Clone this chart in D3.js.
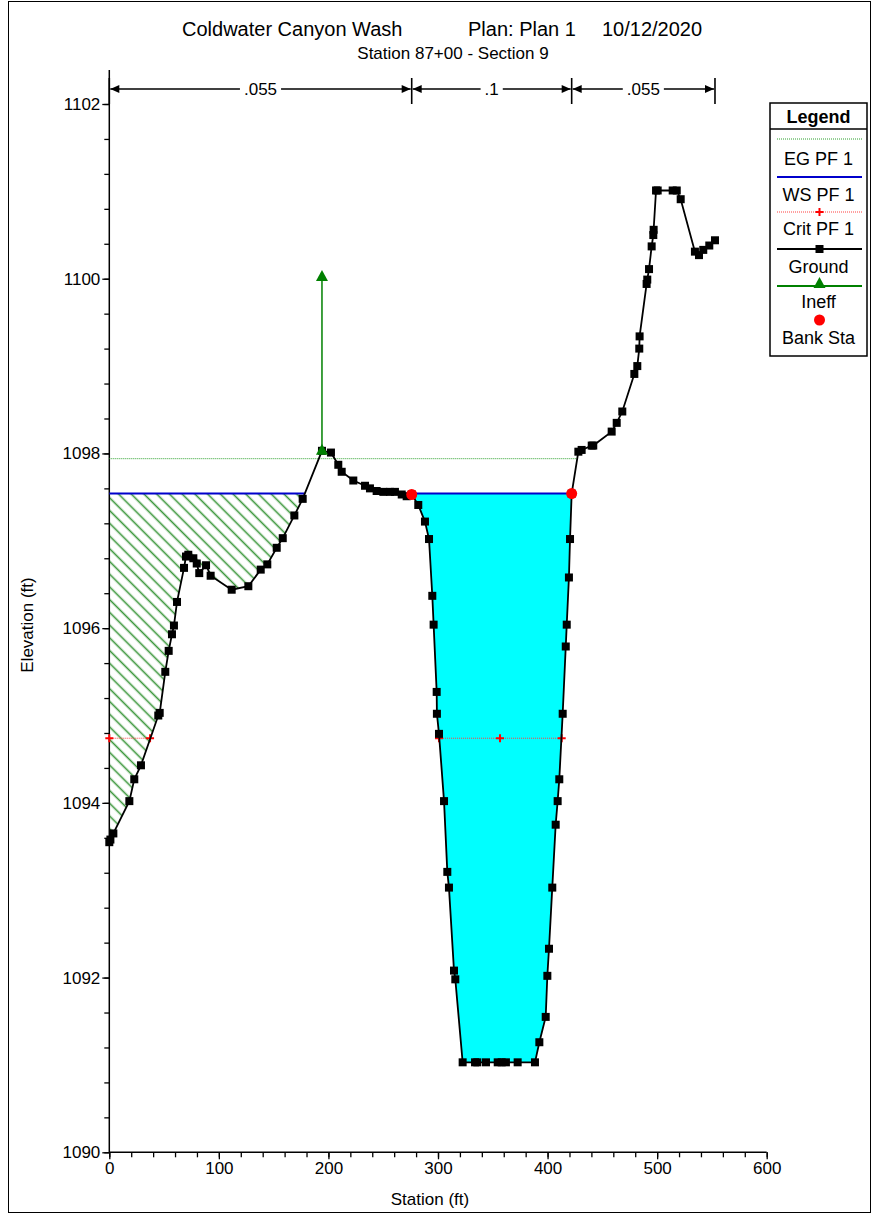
<!doctype html>
<meta charset="utf-8">
<script src="https://d3js.org/d3.v7.min.js"></script>
<style>
  body { margin: 0; background: #fff; }
  svg text { font-family: "Liberation Sans", Arial, sans-serif; fill: #000; }
</style>
<body>
<svg id="chart" width="873" height="1217"></svg>
<script>
// ---- data ----
var groundSta = [0, 1.0, 3.7, 18.3, 22.8, 28.9, 44.7, 46.0, 51.1, 54.2, 57.2, 59.0, 61.8, 68.2, 70.0, 72.1,
  76.7, 79.8, 82.1, 88.3, 92.5, 111.7, 126.9, 138.2, 144.2, 152.8, 158.3, 168.9, 176.5, 194.1, 202.3,
  209.0, 212.1, 222.7, 233.4, 237.9, 244.0, 250.1, 256.2, 260.7, 266.9, 271.4, 276.0, 282.0, 288.1,
  291.8, 294.8, 296.0, 298.8, 299.0, 300.9, 305.5, 308.5, 310.0, 314.6, 315.8, 322.5, 333.8, 335.9,
  343.8, 354.5, 358.1, 362.0, 372.7, 388.5, 392.5, 398.3, 399.8, 401.3, 404.3, 407.4, 409.2, 410.7,
  413.8, 416.6, 417.5, 419.5, 420.5, 422.0, 428.1, 431.1, 440.3, 441.7, 458.5, 463.1, 468.2, 479.2,
  481.9, 483.7, 484.0, 490.4, 491.0, 492.6, 495.0, 496.5, 496.8, 499.0, 500.5, 514.2, 517.9, 521.5,
  534.5, 538.2, 542.1, 547.6, 552.8];
var groundElev = [1093.55, 1093.58, 1093.65, 1094.02, 1094.27, 1094.43, 1095.00, 1095.03, 1095.50, 1095.74,
  1095.93, 1096.03, 1096.30, 1096.69, 1096.82, 1096.84, 1096.80, 1096.74, 1096.63, 1096.72, 1096.60,
  1096.44, 1096.48, 1096.67, 1096.73, 1096.92, 1097.03, 1097.29, 1097.48, 1098.03, 1098.01, 1097.87,
  1097.79, 1097.69, 1097.63, 1097.60, 1097.57, 1097.56, 1097.56, 1097.56, 1097.53, 1097.51, 1097.53,
  1097.41, 1097.22, 1097.02, 1096.37, 1096.04, 1095.27, 1095.02, 1094.79, 1094.02, 1093.21, 1093.03,
  1092.08, 1091.98, 1091.03, 1091.03, 1091.03, 1091.03, 1091.03, 1091.03, 1091.03, 1091.03, 1091.03,
  1091.26, 1091.55, 1092.02, 1092.33, 1093.03, 1093.75, 1094.02, 1094.27, 1095.02, 1095.79, 1096.04,
  1096.58, 1097.02, 1097.54, 1098.02, 1098.04, 1098.09, 1098.09, 1098.25, 1098.35, 1098.48, 1098.91,
  1099.00, 1099.20, 1099.34, 1099.94, 1099.99, 1100.11, 1100.37, 1100.50, 1100.56, 1101.01, 1101.01,
  1101.01, 1101.01, 1100.91, 1100.31, 1100.27, 1100.33, 1100.38, 1100.44];

var wsElev = 1097.54;     // WS PF 1
var egElev = 1097.94;     // EG PF 1
var critElev = 1094.74;   // Crit PF 1
var critSta = [0, 37.2, 300.9, 356.6, 412.9];
var bankSta = [276.0, 422.0];
var ineffSta = 194.1;
var ineffElev = [1098.03, 1100.02];
var nValues = [".055", ".1", ".055"];

var titleParts = ["Coldwater Canyon Wash", "Plan: Plan 1", "10/12/2020"];
var subtitle = "Station 87+00 - Section 9";
var xTicks = [0, 100, 200, 300, 400, 500, 600];
var yTicks = [1090, 1092, 1094, 1096, 1098, 1100, 1102];
var legendItems = ["EG PF 1", "WS PF 1", "Crit PF 1", "Ground", "Ineff", "Bank Sta"];

// ---- layout ----
var svg = d3.select("#chart");
var x = d3.scaleLinear().domain([0, 600]).range([109.3, 766.7]);
var y = d3.scaleLinear().domain([1090, 1102]).range([1152.3, 104]);
var yTop = 70;

var ground = groundSta.map(function (s, i) { return [s, groundElev[i]]; });

// outer frame
svg.append("rect").attr("x", 8.5).attr("y", 1.5).attr("width", 862).attr("height", 1211)
  .attr("fill", "none").attr("stroke", "#000").attr("stroke-width", 1);

// hatch pattern for ineffective area
var defs = svg.append("defs");
defs.append("pattern").attr("id", "hatch").attr("patternUnits", "userSpaceOnUse")
  .attr("width", 9).attr("height", 9).attr("patternTransform", "rotate(45)")
  .append("line").attr("x1", 0).attr("y1", 4.5).attr("x2", 9).attr("y2", 4.5)
  .attr("stroke", "#3a963a").attr("stroke-width", 1.6);

// split the ground into pieces lying below a level
function wetParts(level) {
  var parts = [], cur = null;
  for (var i = 0; i < ground.length; i++) {
    var s = ground[i][0], g = ground[i][1];
    if (i > 0) {
      var s0 = ground[i - 1][0], g0 = ground[i - 1][1];
      if ((g0 < level) != (g < level)) {
        var sc = s0 + (level - g0) / (g - g0) * (s - s0);
        if (cur) { cur.push([sc, level]); parts.push(cur); cur = null; }
        else cur = [[sc, level]];
      }
    }
    if (g < level) { if (!cur) cur = []; cur.push([s, g]); }
  }
  if (cur) parts.push(cur);
  return parts;
}

var wsParts = wetParts(wsElev);
var line = d3.line().x(function (d) { return x(d[0]); }).y(function (d) { return y(d[1]); });

// water fills
wsParts.forEach(function (p) {
  var pts = [[p[0][0], wsElev]].concat(p).concat([[p[p.length - 1][0], wsElev]]);
  var ineff = p[p.length - 1][0] <= ineffSta;
  svg.append("path").attr("d", line(pts) + "Z")
    .attr("fill", ineff ? "url(#hatch)" : "#00ffff").attr("stroke", "none");
});

// axes
var gy = svg.append("g").attr("transform", "translate(" + x(0) + ",0)");
gy.call(d3.axisLeft(y).tickValues(d3.range(1090, 1102.01, 0.4)).tickSize(5).tickFormat(""));
gy.append("g").call(d3.axisLeft(y).tickValues(yTicks).tickSize(7).tickPadding(2).tickFormat(d3.format("d")));
gy.selectAll("path.domain").remove();
gy.append("line").attr("x1", 0).attr("x2", 0).attr("y1", yTop).attr("y2", y(1090))
  .attr("stroke", "#000").attr("stroke-width", 1.5);

var gx = svg.append("g").attr("transform", "translate(0," + y(1090) + ")");
gx.call(d3.axisBottom(x).tickValues(d3.range(0, 600.1, 20)).tickSize(5).tickFormat(""));
gx.append("g").call(d3.axisBottom(x).tickValues(xTicks).tickSize(7).tickPadding(3).tickFormat(d3.format("d")));
gx.selectAll("path.domain").remove();
gx.append("line").attr("x1", x(0)).attr("x2", x(600)).attr("y1", 0).attr("y2", 0)
  .attr("stroke", "#000").attr("stroke-width", 1.5);
svg.selectAll(".tick line").attr("stroke-width", 1.3);
svg.selectAll(".tick text").attr("font-size", 17).attr("font-family", "Liberation Sans, Arial, sans-serif");

svg.append("text").attr("x", x(300) - 8).attr("y", 1205).attr("text-anchor", "middle")
  .attr("font-size", 17).text("Station (ft)");
svg.append("text").attr("transform", "translate(33,625) rotate(-90)").attr("text-anchor", "middle")
  .attr("font-size", 17).text("Elevation (ft)");

// EG line
var egParts = wetParts(egElev);
svg.append("path")
  .attr("d", line([[egParts[0][0][0], egElev], [egParts[egParts.length - 1].slice(-1)[0][0], egElev]]))
  .attr("stroke", "#2ca02c").attr("stroke-width", 1).attr("stroke-dasharray", "1,1").attr("fill", "none");

// WS line
wsParts.forEach(function (p) {
  svg.append("path").attr("d", line([[p[0][0], wsElev], [p[p.length - 1][0], wsElev]]))
    .attr("stroke", "#0000cc").attr("stroke-width", 2).attr("fill", "none");
});

// crit line
[[0, 1], [2, 4]].forEach(function (r) {
  svg.append("path").attr("d", line([[critSta[r[0]], critElev], [critSta[r[1]], critElev]]))
    .attr("stroke", "#ff4040").attr("stroke-width", 1).attr("stroke-dasharray", "1,1").attr("fill", "none");
});
function plus(g, cx, cy) {
  g.append("path").attr("d", "M" + (cx - 4) + "," + cy + "h8M" + cx + "," + (cy - 4) + "v8")
    .attr("stroke", "#ff0000").attr("stroke-width", 2);
}
critSta.forEach(function (s) { plus(svg, x(s), y(critElev)); });

// ground
svg.append("path").attr("d", line(ground)).attr("fill", "none")
  .attr("stroke", "#000").attr("stroke-width", 1.8);
svg.selectAll(".gpt").data(ground).enter().append("rect")
  .attr("x", function (d) { return x(d[0]) - 4; })
  .attr("y", function (d) { return y(d[1]) - 4; })
  .attr("width", 8).attr("height", 8).attr("fill", "#000");

// ineffective flow marker
function tri(g, cx, cy) {
  g.append("path").attr("d", "M" + cx + "," + (cy - 7) + "L" + (cx + 6) + "," + (cy + 4) + "L" + (cx - 6) + "," + (cy + 4) + "Z")
    .attr("fill", "#008000");
}
svg.append("line").attr("x1", x(ineffSta)).attr("x2", x(ineffSta))
  .attr("y1", y(ineffElev[0])).attr("y2", y(ineffElev[1]))
  .attr("stroke", "#008000").attr("stroke-width", 1.5);
ineffElev.forEach(function (e) { tri(svg, x(ineffSta), y(e)); });

// bank stations
bankSta.forEach(function (s) {
  var i = d3.bisectLeft(groundSta, s);
  svg.append("circle").attr("cx", x(s)).attr("cy", y(groundElev[i])).attr("r", 5.5).attr("fill", "#ff0000");
});

// roughness arrows
var nBreaks = [groundSta[0], bankSta[0], bankSta[1], groundSta[groundSta.length - 1]];
var ry = 89;
nBreaks.forEach(function (s) {
  svg.append("line").attr("x1", x(s)).attr("x2", x(s)).attr("y1", 78).attr("y2", 104)
    .attr("stroke", "#000").attr("stroke-width", 1.6);
});
nValues.forEach(function (v, i) {
  var a = x(nBreaks[i]), b = x(nBreaks[i + 1]), m = (a + b) / 2;
  var t = svg.append("text").attr("x", m).attr("y", ry + 6).attr("text-anchor", "middle")
    .attr("font-size", 17).text(v);
  var w = t.node().getComputedTextLength() / 2 + 4;
  svg.append("line").attr("x1", a + 1).attr("x2", m - w).attr("y1", ry).attr("y2", ry).attr("stroke", "#000").attr("stroke-width", 1.3);
  svg.append("line").attr("x1", m + w).attr("x2", b - 1).attr("y1", ry).attr("y2", ry).attr("stroke", "#000").attr("stroke-width", 1.3);
  svg.append("path").attr("d", "M" + (a + 1) + "," + ry + "l9,-4v8Z").attr("fill", "#000");
  svg.append("path").attr("d", "M" + (b - 1) + "," + ry + "l-9,-4v8Z").attr("fill", "#000");
});

// titles
var tx = [182, 468, 602];
titleParts.forEach(function (t, i) {
  svg.append("text").attr("x", tx[i]).attr("y", 36).attr("font-size", 20).text(t);
});
svg.append("text").attr("x", 453).attr("y", 59).attr("text-anchor", "middle").attr("font-size", 17).text(subtitle);

// legend
var lg = svg.append("g");
var lx0 = 770, lx1 = 867, ly0 = 103, ly1 = 356, lc = (lx0 + lx1) / 2;
lg.append("rect").attr("x", lx0).attr("y", ly0).attr("width", lx1 - lx0).attr("height", ly1 - ly0)
  .attr("fill", "#fff").attr("stroke", "#000").attr("stroke-width", 1.5);
lg.append("line").attr("x1", lx0).attr("x2", lx1).attr("y1", 129).attr("y2", 129).attr("stroke", "#000").attr("stroke-width", 1.5);
lg.append("text").attr("x", lc).attr("y", 123).attr("text-anchor", "middle")
  .attr("font-size", 18).attr("font-weight", "bold").text("Legend");
var symY = [139, 177, 212, 249, 286, 320];
var labY = [165, 201, 235, 273, 308, 344];
var lineX0 = 777, lineX1 = 862, lmid = (lineX0 + lineX1) / 2;
var symStyle = [
  { stroke: "#2ca02c", width: 1, dash: "1,1" },
  { stroke: "#0000cc", width: 2, dash: null },
  { stroke: "#ff4040", width: 1, dash: "1,1" },
  { stroke: "#000", width: 2, dash: null },
  { stroke: "#008000", width: 2, dash: null },
  null];
legendItems.forEach(function (name, i) {
  var st = symStyle[i];
  if (st) {
    lg.append("line").attr("x1", lineX0).attr("x2", lineX1).attr("y1", symY[i]).attr("y2", symY[i])
      .attr("stroke", st.stroke).attr("stroke-width", st.width).attr("stroke-dasharray", st.dash);
  }
  if (i == 2) plus(lg, lmid, symY[i]);
  if (i == 3) lg.append("rect").attr("x", lmid - 4).attr("y", symY[i] - 4).attr("width", 8).attr("height", 8).attr("fill", "#000");
  if (i == 4) tri(lg, lmid, symY[i] - 2);
  if (i == 5) lg.append("circle").attr("cx", lmid).attr("cy", symY[i]).attr("r", 5.5).attr("fill", "#ff0000");
  lg.append("text").attr("x", lc).attr("y", labY[i]).attr("text-anchor", "middle")
    .attr("font-size", 18).text(name);
});
</script>
</body>
